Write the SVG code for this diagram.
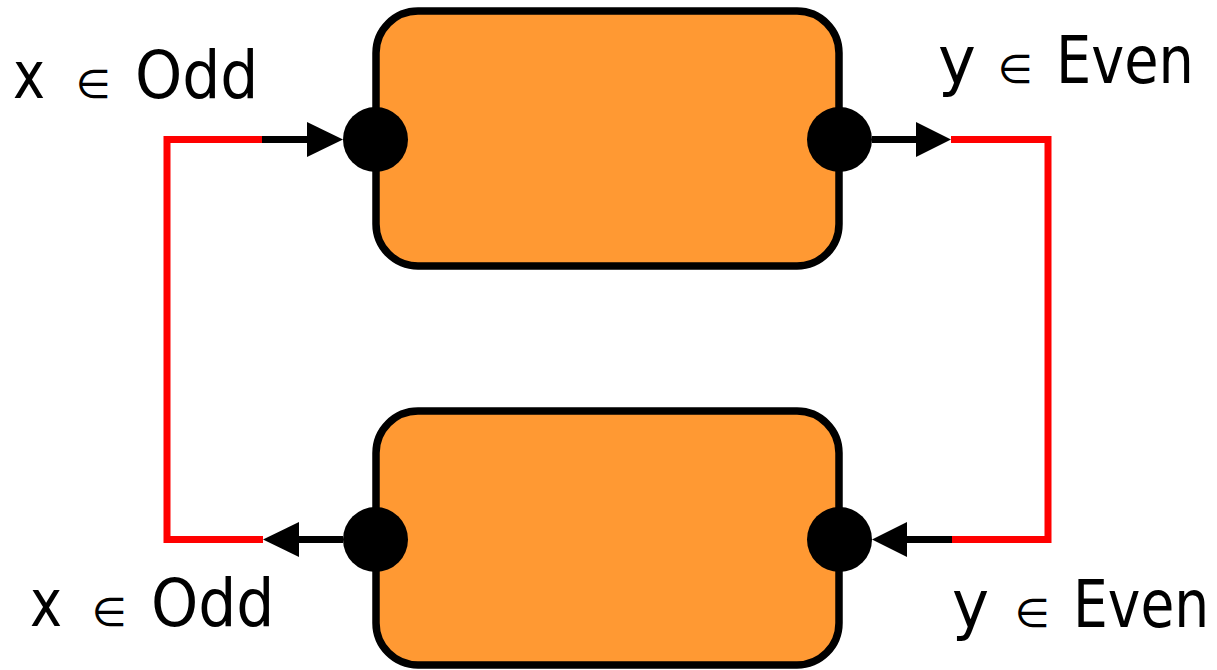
<svg xmlns="http://www.w3.org/2000/svg" width="1217" height="670" viewBox="0 0 1217 670">
  <style>
    .box { fill: #FF9933; stroke: #000; stroke-width: 7.5; }
    .port { fill: #000; }
    .wire { fill: none; stroke: #FF0000; stroke-width: 7; stroke-linejoin: miter; }
    .lead { fill: none; stroke: #000; stroke-width: 7; }
    .head { fill: #000; }
    .lbl { font-family: "DejaVu Sans", "Noto Sans", sans-serif; font-size: 66px; fill: #000; }
    .sym { font-family: "DejaVu Sans", "Noto Sans", sans-serif; font-size: 40px; fill: #000; }
  </style>

  <!-- loop-back wiring -->
  <g id="connectors">
    <!-- left loop: lower output back to upper input -->
    <polyline class="wire" points="263,539.5 167,539.5 167,139.5 263,139.5"/>
    <line class="lead" x1="262" y1="139.5" x2="310" y2="139.5"/>
    <polygon class="head" points="307,122 343,139.5 307,157"/>
    <line class="lead" x1="343" y1="539.5" x2="296" y2="539.5"/>
    <polygon class="head" points="299,522 263,539.5 299,557"/>

    <!-- right loop: upper output down to lower input -->
    <polyline class="wire" points="951,139.5 1048,139.5 1048,539.5 951,539.5"/>
    <line class="lead" x1="872" y1="139.5" x2="919" y2="139.5"/>
    <polygon class="head" points="916,122 951,139.5 916,157"/>
    <line class="lead" x1="952" y1="539.5" x2="904" y2="539.5"/>
    <polygon class="head" points="907,522 872,539.5 907,557"/>
  </g>

  <!-- upper component -->
  <g id="top-block">
    <rect class="box" x="376" y="11" width="463" height="255" rx="42" ry="42"/>
    <circle class="port" cx="375.5" cy="139.5" r="32.5"/>
    <circle class="port" cx="839.5" cy="139.5" r="32.5"/>
  </g>

  <!-- lower component -->
  <g id="bottom-block">
    <rect class="box" x="376" y="411" width="463" height="254" rx="42" ry="42"/>
    <circle class="port" cx="375.5" cy="539.5" r="32.5"/>
    <circle class="port" cx="839.5" cy="539.5" r="32.5"/>
  </g>

  <!-- port labels (horizontally condensed) -->
  <g id="label-top-left">
    <text class="lbl" transform="translate(13,98) scale(0.82,1)">x</text>
    <text class="sym" x="76" y="98">∈</text>
    <text class="lbl" transform="translate(135,98) scale(0.91,1)">Odd</text>
  </g>
  <g id="label-top-right">
    <text class="lbl" transform="translate(938,83) scale(0.97,1)">y</text>
    <text class="sym" x="998" y="83">∈</text>
    <text class="lbl" transform="translate(1056,83) scale(0.845,1)">Even</text>
  </g>
  <g id="label-bottom-left">
    <text class="lbl" transform="translate(30,626) scale(0.82,1)">x</text>
    <text class="sym" x="92" y="626">∈</text>
    <text class="lbl" transform="translate(151,626) scale(0.91,1)">Odd</text>
  </g>
  <g id="label-bottom-right">
    <text class="lbl" transform="translate(952,627) scale(0.95,1)">y</text>
    <text class="sym" x="1015" y="627">∈</text>
    <text class="lbl" transform="translate(1073,627) scale(0.835,1)">Even</text>
  </g>
</svg>
